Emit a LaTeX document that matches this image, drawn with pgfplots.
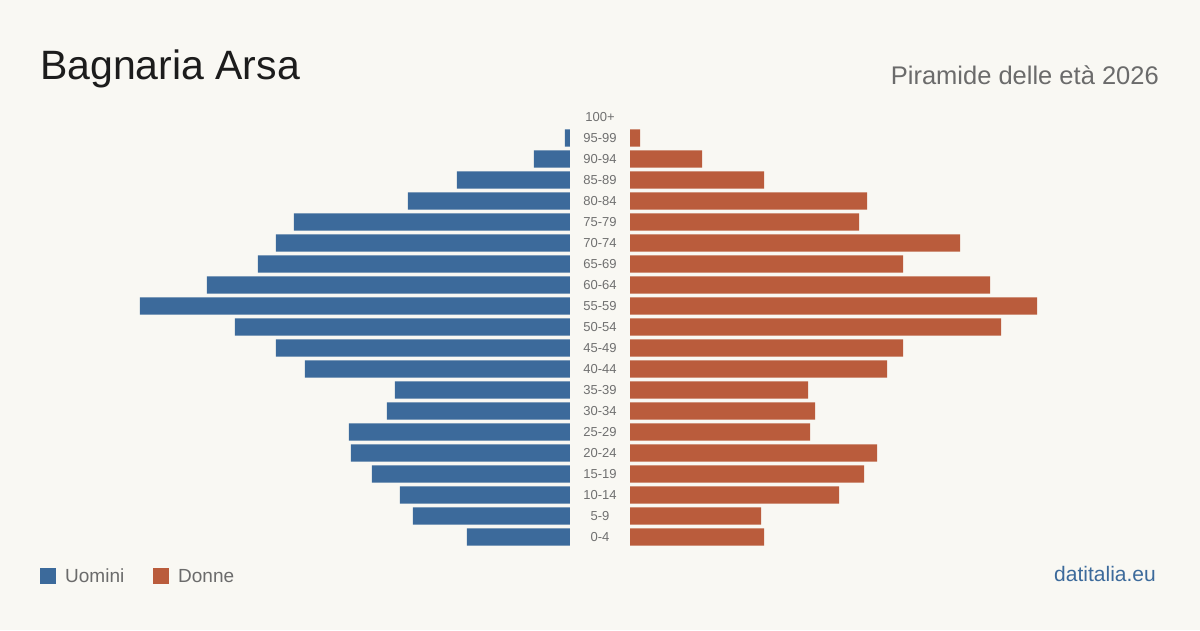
\documentclass[border=0pt]{standalone}
\usepackage{pgfplots}
\pgfplotsset{compat=1.18}
\usepackage{fontspec}
\setmainfont{Liberation Sans}
\definecolor{bg}{HTML}{F9F8F3}
\definecolor{mblue}{HTML}{3C6A9B}
\definecolor{forange}{HTML}{BA5C3C}
\definecolor{titlec}{HTML}{1C1C1C}
\definecolor{subc}{HTML}{6B6B6B}
\definecolor{labc}{HTML}{707070}
\begin{document}
\begin{tikzpicture}
\fill[bg] (0pt,0pt) rectangle (1200pt,630pt);
% males (left)
\begin{axis}[
  at={(570pt,82.5pt)}, anchor=south east,
  width=530pt, height=441pt, scale only axis,
  x dir=reverse, xmin=0, xmax=530, ymin=-0.5, ymax=20.5,
  axis line style={draw=none}, major tick length=0pt,
  xtick=\empty, ytick=\empty,
  xbar, bar width=0.81,
]
\addplot[fill=mblue, draw=none] coordinates {
(103,0) (157,1) (170,2) (198,3) (219,4) (221,5) (183,6) (175,7) (265,8) (294,9)
(335,10) (430,11) (363,12) (312,13) (294,14) (276,15) (162,16) (113,17) (36,18) (5,19)};
\end{axis}
% females (right)
\begin{axis}[
  at={(630pt,82.5pt)}, anchor=south west,
  width=530pt, height=441pt, scale only axis,
  xmin=0, xmax=530, ymin=-0.5, ymax=20.5,
  axis line style={draw=none}, major tick length=0pt,
  xtick=\empty, ytick={0,...,20},
  yticklabels={0-4,5-9,10-14,15-19,20-24,25-29,30-34,35-39,40-44,45-49,50-54,55-59,60-64,65-69,70-74,75-79,80-84,85-89,90-94,95-99,100+},
  yticklabel style={anchor=center, xshift=-30pt, font=\fontsize{13}{15}\selectfont, text=labc},
  xbar, bar width=0.81,
]
\addplot[fill=forange, draw=none] coordinates {
(134,0) (131,1) (209,2) (234,3) (247,4) (180,5) (185,6) (178,7) (257,8) (273,9)
(371,10) (407,11) (360,12) (273,13) (330,14) (229,15) (237,16) (134,17) (72,18) (10,19)};
\end{axis}
\node[anchor=base west, inner sep=0pt, text=titlec, font=\fontsize{41}{48}\selectfont] at (40pt,550.5pt) {Bagnaria Arsa};
\node[anchor=base east, inner sep=0pt, text=subc, font=\fontsize{25.5}{30}\selectfont] at (1159pt,545.7pt) {Piramide delle età 2026};
\fill[mblue] (40pt,46pt) rectangle (56pt,62pt);
\node[anchor=base west, inner sep=0pt, text=subc, font=\fontsize{19}{23}\selectfont] at (65pt,47.3pt) {Uomini};
\fill[forange] (153pt,46pt) rectangle (169pt,62pt);
\node[anchor=base west, inner sep=0pt, text=subc, font=\fontsize{19}{23}\selectfont] at (178pt,47.3pt) {Donne};
\node[anchor=base east, inner sep=0pt, text=mblue, font=\fontsize{21}{25}\selectfont] at (1156pt,48.3pt) {datitalia.eu};
\end{tikzpicture}
\end{document}
